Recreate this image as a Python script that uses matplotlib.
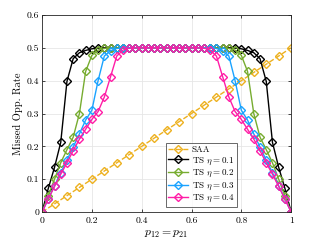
import numpy as np
import matplotlib
matplotlib.use("Agg")
import matplotlib.pyplot as plt

plt.rcParams['font.family'] = 'serif'
plt.rcParams['font.serif'] = ['cmr10', 'DejaVu Serif']
plt.rcParams['mathtext.fontset'] = 'cm'
plt.rcParams['axes.formatter.use_mathtext'] = True

# x grid for TS curves
x_ts = np.round(np.arange(0, 1.0001, 0.025), 4)
x_saa = np.round(np.arange(0, 1.0001, 0.05), 4)
y_saa = [0, 0.025, 0.05, 0.075, 0.1, 0.125, 0.15, 0.175, 0.2, 0.225, 0.25,
         0.275, 0.3, 0.325, 0.35, 0.375, 0.4, 0.425, 0.45, 0.475, 0.5]

# left halves (x = 0 .. 0.5), mirrored for the right half
ts01_half = [0, 0.072, 0.136, 0.212, 0.398, 0.467, 0.485, 0.492, 0.497, 0.499, 0.5,
             0.5, 0.5, 0.5, 0.5, 0.5, 0.5, 0.5, 0.5, 0.5, 0.5]
ts02_half = [0, 0.05, 0.1, 0.15, 0.19, 0.228, 0.30, 0.428, 0.477, 0.493, 0.498,
             0.5, 0.5, 0.5, 0.5, 0.5, 0.5, 0.5, 0.5, 0.5, 0.5]
ts03_half = [0, 0.04, 0.08, 0.12, 0.158, 0.198, 0.238, 0.28, 0.31, 0.40, 0.475,
             0.491, 0.498, 0.5, 0.5, 0.5, 0.5, 0.5, 0.5, 0.5, 0.5]
ts04_half = [0, 0.04, 0.078, 0.115, 0.15, 0.187, 0.222, 0.252, 0.282, 0.306, 0.35,
             0.412, 0.475, 0.493, 0.499, 0.5, 0.5, 0.5, 0.5, 0.5, 0.5]

def full(h):
    return list(h) + list(h[-2::-1])

labels = ['SAA', r'TS $\eta = 0.1$', r'TS $\eta = 0.2$', r'TS $\eta = 0.3$', r'TS $\eta = 0.4$']
colors = ['#EDB120', 'black', '#77AC30', '#1AA3FF', '#FF1DA6']

fig = plt.figure(figsize=(3.21, 2.41), dpi=100)
ax = fig.add_axes([0.131, 0.120, 0.776, 0.818])

mk = dict(marker='D', markersize=3.6, markerfacecolor='none', markeredgewidth=1.0)
ax.plot(x_saa, y_saa, '--', color=colors[0], lw=1.0, label=labels[0], **mk)
for h, c, l in zip([ts01_half, ts02_half, ts03_half, ts04_half], colors[1:], labels[1:]):
    ax.plot(x_ts, full(h), '-', color=c, lw=1.0, label=l, **mk)

ax.set_xlim(0, 1)
ax.set_ylim(0, 0.6)
ax.set_xticks([0, 0.2, 0.4, 0.6, 0.8, 1])
ax.set_xticklabels(['0', '0.2', '0.4', '0.6', '0.8', '1'])
ax.set_yticks([0, 0.1, 0.2, 0.3, 0.4, 0.5, 0.6])
ax.set_yticklabels(['0', '0.1', '0.2', '0.3', '0.4', '0.5', '0.6'])
ax.tick_params(direction='in', labelsize=7, length=2.5, width=0.5, top=True, right=True, pad=2)
ax.tick_params(axis='x', pad=3.5)
ax.grid(True, color='#e6e6e6', lw=0.6)
ax.set_axisbelow(True)
for s in ax.spines.values():
    s.set_color('#262626')
    s.set_linewidth(0.6)
ax.set_xlabel(r'$p_{12} = p_{21}$', fontsize=8.5, labelpad=2.5)
ax.set_ylabel('Missed Opp. Rate', fontsize=7.5, labelpad=3)

leg = ax.legend(loc='lower right', bbox_to_anchor=(0.783, 0.025), borderaxespad=0,
                fontsize=6.5, frameon=True, fancybox=False, edgecolor='#262626',
                handlelength=2.2, handletextpad=0.4, borderpad=0.3, labelspacing=0.15)
leg.get_frame().set_linewidth(0.6)

fig.savefig('out.png', dpi=100)
